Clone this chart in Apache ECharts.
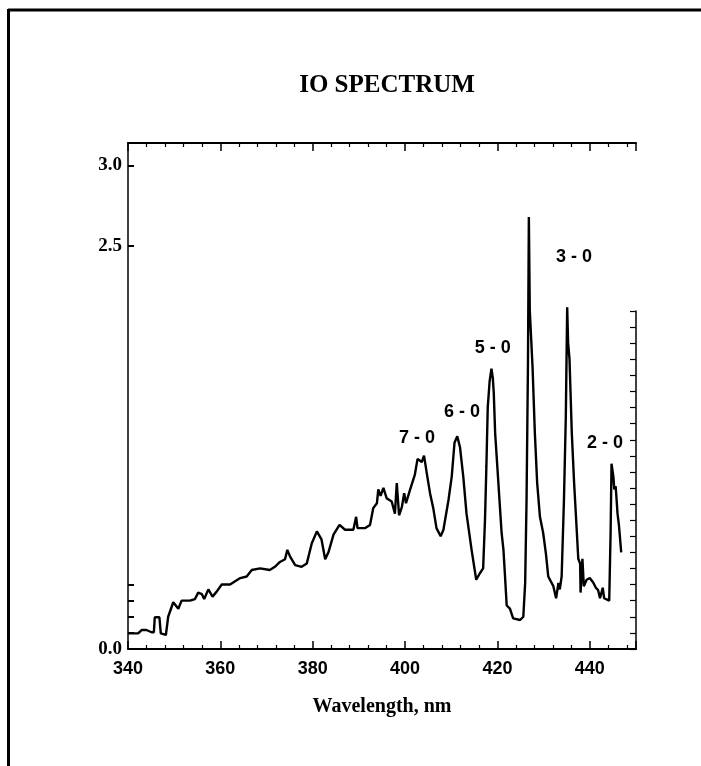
<!DOCTYPE html>
<html>
<head>
<meta charset="utf-8">
<title>IO Spectrum</title>
<script src="https://cdn.jsdelivr.net/npm/echarts@6/dist/echarts.min.js"></script>
<style>
  html, body { margin: 0; padding: 0; background: #fff; }
  #main { width: 701px; height: 766px; }
</style>
</head>
<body>
<div id="main"></div>
<script>
// wavelength (nm) and relative intensity
var wavelength = [
  340.0, 342.2, 343.0, 344.0, 345.1, 345.6, 345.8, 346.8, 347.1, 348.2,
  348.7, 349.8, 350.2, 350.9, 351.6, 353.4, 354.5, 355.2, 356.0, 356.5,
  357.4, 358.3, 359.2, 360.3, 362.1, 363.2, 364.3, 365.7, 366.8, 368.6,
  370.7, 371.8, 372.9, 374.0, 374.5, 375.1, 376.2, 377.6, 378.7, 379.8,
  380.9, 381.9, 382.7, 383.4, 384.5, 385.8, 387.0, 388.8, 389.4, 389.7,
  391.3, 392.4, 393.1, 393.9, 394.2, 394.7, 395.3, 396.0, 397.1, 397.8,
  398.2, 398.7, 399.3, 399.8, 400.2, 401.1, 402.1, 402.7, 403.6, 404.1,
  404.7, 405.4, 406.1, 406.8, 407.7, 408.3, 409.4, 410.1, 410.7, 411.3,
  411.9, 412.6, 413.3, 414.4, 415.4, 416.2, 416.9, 417.3, 417.6, 417.9,
  418.3, 418.7, 419.0, 419.2, 419.5, 420.2, 420.9, 421.3, 421.6, 422.0,
  422.7, 423.4, 424.9, 425.6, 426.0, 426.3, 426.6, 426.8, 427.0, 427.2,
  427.6, 428.1, 428.6, 429.2, 429.9, 430.5, 431.0, 432.1, 432.7, 433.2,
  433.5, 433.9, 434.4, 434.8, 435.1, 435.3, 435.6, 436.1, 436.6, 437.2,
  437.5, 437.9, 438.0, 438.4, 438.7, 439.3, 440.0, 440.8, 441.3, 441.8,
  442.2, 442.8, 443.1, 444.2, 444.5, 444.7, 445.1, 445.3, 445.6, 446.0,
  446.3, 446.8
];
var intensity = [
  0.097, 0.097, 0.118, 0.118, 0.104, 0.104, 0.197, 0.197, 0.097, 0.087,
  0.20, 0.29, 0.29, 0.25, 0.30, 0.30, 0.31, 0.35, 0.34, 0.31,
  0.37, 0.325, 0.356, 0.40, 0.40, 0.42, 0.44, 0.45, 0.49, 0.50,
  0.49, 0.51, 0.54, 0.557, 0.615, 0.573, 0.52, 0.51, 0.53, 0.656,
  0.73, 0.68, 0.557, 0.60, 0.71, 0.77, 0.74, 0.74, 0.82, 0.75,
  0.75, 0.77, 0.874, 0.905, 0.99, 0.95, 1.0, 0.936, 0.915, 0.84,
  1.03, 0.83, 0.88, 0.967, 0.905, 0.99, 1.08, 1.18, 1.16, 1.20,
  1.09, 0.967, 0.874, 0.75, 0.70, 0.74, 0.925, 1.07, 1.28, 1.32,
  1.25, 1.07, 0.84, 0.615, 0.43, 0.47, 0.50, 0.80, 1.13, 1.50,
  1.66, 1.74, 1.68, 1.59, 1.34, 1.03, 0.72, 0.615, 0.47, 0.27,
  0.25, 0.19, 0.18, 0.20, 0.41, 0.925, 1.75, 2.68, 2.1, 2.1,
  1.75, 1.34, 1.03, 0.82, 0.72, 0.59, 0.45, 0.39, 0.315, 0.41,
  0.37, 0.45, 0.925, 1.44, 2.12, 1.9, 1.8, 1.34, 1.03, 0.72,
  0.56, 0.53, 0.35, 0.56, 0.39, 0.43, 0.44, 0.41, 0.38, 0.365,
  0.315, 0.38, 0.315, 0.30, 0.72, 1.15, 1.07, 0.99, 1.01, 0.84,
  0.77, 0.60
];

// band labels and where they sit (nm, intensity)
var bandNames = ['7 - 0', '6 - 0', '5 - 0', '3 - 0', '2 - 0'];
var bandX = [402.6, 412.3, 419.0, 436.6, 443.3];
var bandY = [1.31, 1.47, 1.87, 2.43, 1.28];

var yLabelValues = [0, 2.5, 3.0];
var yTickValues = [0.1, 0.2, 0.3, 0.4, 2.5, 3.0];

var chart = echarts.init(document.getElementById('main'));

var points = wavelength.map(function (w, i) { return [w, intensity[i]]; });
var bandMarks = bandNames.map(function (n, i) {
  return { name: n, coord: [bandX[i], bandY[i]] };
});

var option = {
  animation: false,
  backgroundColor: '#fff',
  title: {
    text: 'IO SPECTRUM',
    left: 382,
    top: 68,
    textAlign: 'center',
    textStyle: {
      fontFamily: 'Liberation Serif',
      fontWeight: 'bold',
      fontSize: 25,
      color: '#000'
    }
  },
  graphic: [
    { type: 'line', shape: { x1: 8, y1: 10, x2: 701, y2: 10 }, style: { stroke: '#000', lineWidth: 3 } },
    { type: 'line', shape: { x1: 8.5, y1: 9, x2: 8.5, y2: 766 }, style: { stroke: '#000', lineWidth: 3 } }
  ],
  grid: [
    { left: 128, right: 65, top: 143, bottom: 117 },
    { left: 128, right: 65, top: 311, bottom: 117 }
  ],
  xAxis: [
    {
      gridIndex: 0,
      type: 'value',
      position: 'bottom',
      min: 340,
      max: 450,
      interval: 20,
      name: 'Wavelength, nm',
      nameLocation: 'middle',
      nameGap: 48,
      nameTextStyle: {
        fontFamily: 'Liberation Serif',
        fontWeight: 'bold',
        fontSize: 20,
        color: '#000'
      },
      axisLine: { show: true, lineStyle: { color: '#000', width: 2 } },
      axisTick: { show: true, inside: true, length: 8, lineStyle: { color: '#000', width: 1.5 } },
      minorTick: { show: true, splitNumber: 5, length: 4, lineStyle: { color: '#000', width: 1.2 } },
      axisLabel: {
        margin: 11,
        fontFamily: 'Liberation Sans',
        fontWeight: 'bold',
        fontSize: 18,
        color: '#000',
        showMaxLabel: false
      },
      splitLine: { show: false }
    },
    {
      gridIndex: 0,
      type: 'value',
      position: 'top',
      min: 340,
      max: 450,
      interval: 20,
      axisLine: { show: true, lineStyle: { color: '#000', width: 2 } },
      axisTick: { show: true, inside: true, length: 8, lineStyle: { color: '#000', width: 1.5 } },
      minorTick: { show: true, splitNumber: 5, length: 4, lineStyle: { color: '#000', width: 1.2 } },
      axisLabel: { show: false },
      splitLine: { show: false }
    },
    {
      gridIndex: 1,
      type: 'value',
      min: 340,
      max: 450,
      show: false
    }
  ],
  yAxis: [
    {
      gridIndex: 0,
      type: 'value',
      position: 'left',
      min: 0,
      max: 3.14,
      axisLine: { show: true, lineStyle: { color: '#000', width: 1.5 } },
      axisTick: {
        show: true,
        inside: true,
        length: 6,
        customValues: yTickValues,
        lineStyle: { color: '#000', width: 2 }
      },
      axisLabel: {
        margin: 6,
        customValues: yLabelValues,
        formatter: function (v) { return v.toFixed(1); },
        fontFamily: 'Liberation Serif',
        fontWeight: 'bold',
        fontSize: 19,
        color: '#000'
      },
      splitLine: { show: false }
    },
    {
      gridIndex: 1,
      type: 'value',
      position: 'right',
      min: 0,
      max: 2.1,
      interval: 0.1,
      axisLine: { show: true, lineStyle: { color: '#000', width: 1.5 } },
      axisTick: { show: true, inside: true, length: 6, lineStyle: { color: '#000', width: 1.2 } },
      axisLabel: { show: false },
      splitLine: { show: false }
    }
  ],
  series: [
    {
      type: 'line',
      xAxisIndex: 0,
      yAxisIndex: 0,
      data: points,
      showSymbol: false,
      smooth: false,
      lineStyle: { color: '#000', width: 2.4 },
      markPoint: {
        symbol: 'circle',
        symbolSize: 1,
        itemStyle: { color: 'rgba(0,0,0,0)' },
        label: {
          show: true,
          position: 'inside',
          formatter: '{b}',
          fontFamily: 'Liberation Sans',
          fontWeight: 'bold',
          fontSize: 18,
          color: '#000'
        },
        data: bandMarks
      }
    }
  ]
};

chart.setOption(option);
window.onresize = function () { chart.resize(); };
</script>
</body>
</html>
